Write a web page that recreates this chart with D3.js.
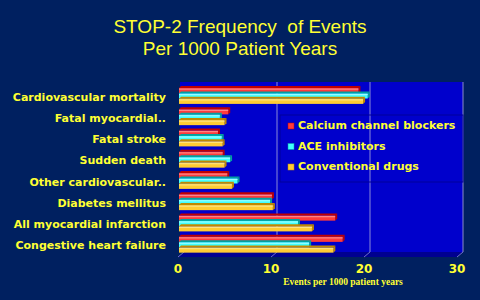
<!DOCTYPE html>
<html><head><meta charset="utf-8">
<script src="https://cdn.jsdelivr.net/npm/d3@7"></script>
<style>html,body{margin:0;padding:0;background:#002060;}svg{display:block;}</style>
</head><body>
<script>
const categories = ["Cardiovascular mortality","Fatal myocardial..","Fatal stroke","Sudden death","Other cardiovascular..","Diabetes mellitus","All myocardial infarction","Congestive heart failure"];
const seriesNames = ["Calcium channel blockers","ACE inhibitors","Conventional drugs"];
const ccb  = [19.4, 5.4, 4.3, 4.8, 5.3, 10.1, 16.9, 17.7];
const acei = [20.4, 4.5, 4.7, 5.6, 6.4, 9.9, 12.9, 14.1];
const conv = [19.9, 5.0, 4.8, 5.0, 5.8, 10.2, 14.4, 16.7];
const tickValues = [0, 10, 20, 30];
const titleLines = ["STOP-2 Frequency  of Events", "Per 1000 Patient Years"];
const axisTitle = "Events per 1000 patient years";

const W = 480, H = 300;
const colors = [
  {front:"#ff3b3b", top:"#ff9a9a", side:"#c00000"},
  {front:"#40ffff", top:"#b0ffff", side:"#00a0a0"},
  {front:"#ffcc33", top:"#ffe890", side:"#c08800"}
];
const series = [ccb, acei, conv];
const DX = 6, DY = 5;

const svg = d3.select("body").append("svg").attr("width", W).attr("height", H);
svg.append("rect").attr("width", W).attr("height", H).attr("fill", "#002060");

const x = d3.scaleLinear().domain([0, 30]).range([178, 457]);
const y = d3.scaleBand().domain(categories).range([84, 254]).paddingInner(0.24).paddingOuter(0.12);
const sub = d3.scaleBand().domain(d3.range(3)).range([0, y.bandwidth()]);

// title
svg.append("g").selectAll("text").data(titleLines).join("text")
  .attr("x", 240).attr("y", (d, i) => 33 + i * 22)
  .attr("text-anchor", "middle")
  .attr("font-family", "Liberation Sans, Arial, sans-serif")
  .attr("font-size", 19).attr("fill", "#ffff33")
  .attr("xml:space", "preserve")
  .text(d => d);

// back wall
const wallTop = 82, wallBottom = 252, frontBottom = 257;
svg.append("rect").attr("x", x(0) + 2).attr("y", wallTop)
  .attr("width", x(30) + DX - x(0) - 2).attr("height", wallBottom - wallTop)
  .attr("fill", "#0000cc");
// floor
svg.append("path")
  .attr("d", `M${x(0)},${frontBottom}L${x(30)},${frontBottom}L${x(30)+DX},${wallBottom}L${x(0)+DX},${wallBottom}Z`)
  .attr("fill", "#000090");
// right edge line
svg.append("line").attr("x1", x(30) + DX).attr("x2", x(30) + DX)
  .attr("y1", wallTop).attr("y2", wallBottom)
  .attr("stroke", "#8a8ac8").attr("stroke-width", 1);
// gridlines on wall
svg.append("g").selectAll("line").data(tickValues.filter(v => v > 0 && v < 30)).join("line")
  .attr("x1", d => x(d) + DX).attr("x2", d => x(d) + DX)
  .attr("y1", wallTop).attr("y2", wallBottom)
  .attr("stroke", "#8a8ad8").attr("stroke-width", 1);
// floor tick slants
svg.append("g").selectAll("line").data(tickValues).join("line")
  .attr("x1", d => x(d)).attr("y1", frontBottom)
  .attr("x2", d => x(d) + DX).attr("y2", wallBottom)
  .attr("stroke", "#8a8ad8").attr("stroke-width", 0.8);

// legend box
svg.append("rect").attr("x", 280).attr("y", 115).attr("width", x(30) + DX - 280).attr("height", 67)
  .attr("fill", "none").attr("stroke", "#00009a").attr("stroke-width", 1);

// bars (3D)
const bars = svg.append("g");
categories.forEach((c, ci) => {
  series.forEach((s, si) => {
    const v = s[ci];
    const x0 = x(0) + 1, x1 = x(v);
    const bh = sub.bandwidth() - 0.3;
    const y0 = y(c) + sub(si) + 1.5;
    const d = 2;
    const g = bars.append("g");
    g.append("path")
      .attr("d", `M${x0},${y0}L${x1},${y0}L${x1+d},${y0-d}L${x0+d},${y0-d}Z`)
      .attr("fill", colors[si].side);
    g.append("path")
      .attr("d", `M${x1},${y0}L${x1+d},${y0-d}L${x1+d},${y0+bh-d}L${x1},${y0+bh}Z`)
      .attr("fill", colors[si].side);
    g.append("rect").attr("x", x0).attr("y", y0).attr("width", x1 - x0).attr("height", bh)
      .attr("fill", colors[si].front);
    g.append("rect").attr("x", x0).attr("y", y0 + 0.5).attr("width", x1 - x0).attr("height", 1.2)
      .attr("fill", colors[si].top).attr("opacity", 0.8);
  });
});

// category labels
svg.append("g").selectAll("text").data(categories).join("text")
  .attr("x", 166).attr("y", d => y(d) + y.bandwidth() / 2 + 3)
  .attr("text-anchor", "end").attr("dominant-baseline", "middle")
  .attr("font-family", "DejaVu Sans, Verdana, sans-serif").attr("font-weight", "bold")
  .attr("font-size", 11).attr("fill", "#ffff33")
  .text(d => d);

// x tick labels
svg.append("g").selectAll("text").data(tickValues).join("text")
  .attr("x", d => x(d)).attr("y", 273)
  .attr("text-anchor", "middle")
  .attr("font-family", "DejaVu Sans, Verdana, sans-serif").attr("font-weight", "bold")
  .attr("font-size", 12).attr("fill", "#ffff33")
  .text(d => d);

// axis title
svg.append("text").attr("x", 343).attr("y", 285)
  .attr("text-anchor", "middle")
  .attr("font-family", "Liberation Serif, Times New Roman, serif").attr("font-weight", "bold")
  .attr("font-size", 9.5).attr("fill", "#ffff33")
  .text(axisTitle);

// legend
const lg = svg.append("g").selectAll("g").data(seriesNames).join("g")
  .attr("transform", (d, i) => `translate(288, ${126 + i * 20.5})`);
lg.append("rect").attr("x", 0).attr("y", -3).attr("width", 6).attr("height", 6)
  .attr("fill", (d, i) => colors[i].front).attr("stroke", (d, i) => colors[i].side).attr("stroke-width", 0.5);
lg.append("text").attr("x", 10).attr("y", 0).attr("dominant-baseline", "middle")
  .attr("font-family", "DejaVu Sans, Verdana, sans-serif").attr("font-weight", "bold")
  .attr("font-size", 11).attr("fill", "#ffff33")
  .text(d => d);
</script>
</body></html>
